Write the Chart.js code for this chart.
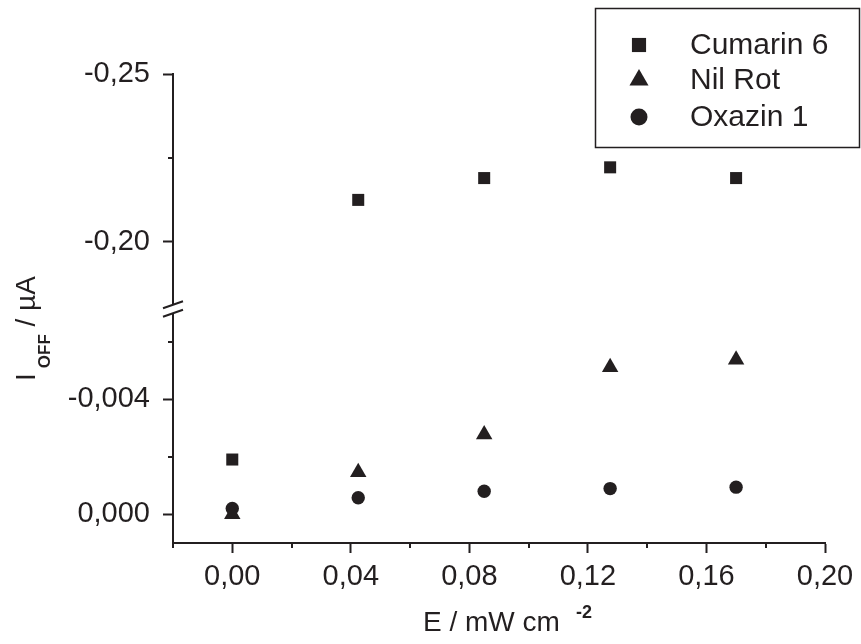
<!DOCTYPE html>
<html><head><meta charset="utf-8">
<script src="https://cdn.jsdelivr.net/npm/chart.js@4"></script>
<style>html,body{margin:0;padding:0;background:#fff;overflow:hidden}</style>
</head><body>
<canvas id="c" width="861" height="644" style="display:block;width:861px;height:644px"></canvas>
<script>
// ---- data ----
const energy   = [0, 0.0425, 0.085, 0.1275, 0.17];            // E / mW cm^-2
const cumarin6 = [-0.0019, -0.2125, -0.2190, -0.2222, -0.2190]; // I_OFF / µA
const nilRot   = [0.0000, -0.00146, -0.00277, -0.00511, -0.00537];
const oxazin1  = [-0.0002, -0.00057, -0.00080, -0.00089, -0.00094];
const seriesNames = ['Cumarin 6', 'Nil Rot', 'Oxazin 1'];

// ---- tick values ----
const xTicks      = [-0.02, 0, 0.02, 0.04, 0.06, 0.08, 0.10, 0.12, 0.14, 0.16, 0.18, 0.20];
const xMajorTicks = [0, 0.04, 0.08, 0.12, 0.16, 0.20];
const yLowTicks      = [0, -0.002, -0.004, -0.006];
const yLowMajorTicks = [0, -0.004];
const yHighTicks      = [-0.20, -0.225, -0.25];
const yHighMajorTicks = [-0.20, -0.25];
const breakValue = -0.1; // values more negative than this sit above the axis break

const INK = '#231f20';
const FONT = "'Liberation Sans', Arial, Helvetica, sans-serif";
const TICK_SIZE = 29;

const isMajor = (v, list) => list.some(m => Math.abs(m - v) < 1e-9);
const fmt = (v, d) => (Math.abs(v) < 1e-12 ? 0 : v).toFixed(d).replace('.', ',');
const pts = (vals, pred) => energy.map((x, i) => ({x, y: vals[i]})).filter(p => pred(p.y));
const high = v => v < breakValue, low = v => v >= breakValue;

const markerStyles = [
  {pointStyle: 'rect', radius: 8.5, legendRadius: 10},
  {pointStyle: 'triangle', radius: 9.5, legendRadius: 11},
  {pointStyle: 'circle', radius: 6.7, legendRadius: 8.5}
];
function ds(label, data, axis, idx, hidden) {
  const m = markerStyles[idx];
  return {label, data, yAxisID: axis, showLine: false, pointStyle: m.pointStyle,
    pointRadius: m.radius, pointHoverRadius: m.radius, pointBackgroundColor: INK,
    pointBorderColor: INK, pointBorderWidth: 0, backgroundColor: INK, borderColor: INK,
    legendSkip: !!hidden, seriesIndex: idx};
}
const datasets = [
  ds(seriesNames[0], pts(cumarin6, high), 'yHigh', 0, false),
  ds(seriesNames[0], pts(cumarin6, low), 'yLow', 0, true),
  ds(seriesNames[1], pts(nilRot, low), 'yLow', 1, false),
  ds(seriesNames[2], pts(oxazin1, low), 'yLow', 2, false)
];

function gridOpts(majors) {
  return {display: true, drawOnChartArea: false, drawTicks: true, tickLength: 10, tickWidth: 2,
    tickColor: ctx => (ctx.tick && isMajor(ctx.tick.value, majors)) ? INK : 'rgba(0,0,0,0)'};
}

const minorTicksPlugin = {
  id: 'minorTicks',
  afterDraw(chart) {
    const ctx = chart.ctx;
    ctx.save();
    ctx.strokeStyle = INK; ctx.lineWidth = 2;
    const defs = [['x', xTicks, xMajorTicks], ['yLow', yLowTicks, yLowMajorTicks], ['yHigh', yHighTicks, yHighMajorTicks]];
    for (const [id, ticks, majors] of defs) {
      const s = chart.scales[id];
      for (const v of ticks) {
        if (isMajor(v, majors)) continue;
        const p = Math.round(s.getPixelForValue(v));
        ctx.beginPath();
        if (id === 'x') { ctx.moveTo(p, s.top); ctx.lineTo(p, s.top + 5); }
        else { ctx.moveTo(s.right, p); ctx.lineTo(s.right - 5, p); }
        ctx.stroke();
      }
    }
    ctx.restore();
  }
};

const breakPlugin = {
  id: 'axisBreak',
  afterDraw(chart) {
    const ctx = chart.ctx;
    const ax = chart.chartArea.left;
    const yb = chart.scales.yHigh.bottom;
    ctx.save();
    ctx.fillStyle = '#fff';
    ctx.beginPath();
    ctx.moveTo(ax - 3, yb - 3.2); ctx.lineTo(ax + 3, yb - 5.3);
    ctx.lineTo(ax + 3, yb + 3.2); ctx.lineTo(ax - 3, yb + 5.3);
    ctx.closePath(); ctx.fill();
    ctx.strokeStyle = INK; ctx.lineWidth = 2;
    ctx.beginPath();
    ctx.moveTo(ax - 10, yb - 0.75); ctx.lineTo(ax + 10, yb - 7.75);
    ctx.moveTo(ax - 10, yb + 7.75); ctx.lineTo(ax + 10, yb + 0.75);
    ctx.stroke();
    ctx.restore();
  }
};

const titlesPlugin = {
  id: 'axisTitles',
  afterDraw(chart) {
    const ctx = chart.ctx;
    ctx.save();
    ctx.fillStyle = INK;
    ctx.textBaseline = 'alphabetic';
    ctx.textAlign = 'left';
    // x title
    ctx.font = `28px ${FONT}`;
    ctx.fillText('E / mW cm', 423, 631);
    ctx.font = `bold 18px ${FONT}`;
    ctx.fillText('-2', 576, 618);
    // y title (rotated)
    ctx.translate(35, 381);
    ctx.rotate(-Math.PI / 2);
    ctx.font = `28px ${FONT}`;
    ctx.fillText('I', 0, 0);
    let w = ctx.measureText('I').width;
    ctx.font = `bold 17px ${FONT}`;
    ctx.fillText('OFF', w + 5, 15);
    w += 5 + ctx.measureText('OFF').width;
    ctx.font = `28px ${FONT}`;
    ctx.fillText(' / µA', w, 0);
    ctx.restore();
  }
};

const legendPlugin = {
  id: 'boxLegend',
  afterDraw(chart) {
    const ctx = chart.ctx;
    ctx.save();
    ctx.strokeStyle = INK; ctx.lineWidth = 1.5;
    ctx.strokeRect(595.5, 8.5, 264, 139);
    const rows = [45, 80, 117];
    let r = 0;
    chart.data.datasets.forEach(d => {
      if (d.legendSkip) return;
      const m = markerStyles[d.seriesIndex];
      ctx.fillStyle = INK; ctx.strokeStyle = INK;
      Chart.helpers.drawPoint(ctx, {pointStyle: m.pointStyle, radius: m.legendRadius, rotation: 0, borderWidth: 0}, 639, rows[r]);
      ctx.font = `30px ${FONT}`;
      ctx.textBaseline = 'middle'; ctx.textAlign = 'left';
      ctx.fillText(d.label, 690, rows[r] + 1);
      r++;
    });
    ctx.restore();
  }
};

new Chart(document.getElementById('c'), {
  type: 'scatter',
  data: {datasets},
  plugins: [minorTicksPlugin, breakPlugin, titlesPlugin, legendPlugin],
  options: {
    responsive: false, animation: false, devicePixelRatio: 1,
    layout: {padding: {top: 74, right: 36, left: 0, bottom: 0}},
    plugins: {legend: {display: false}, tooltip: {enabled: false}, title: {display: false}},
    scales: {
      x: {type: 'linear', position: 'bottom', min: -0.02, max: 0.20,
        afterBuildTicks: s => { s.ticks = xTicks.map(v => ({value: v})); },
        afterFit: s => { s.height = 101; },
        grid: gridOpts(xMajorTicks),
        border: {display: true, color: INK, width: 2},
        ticks: {autoSkip: false, maxRotation: 0, minRotation: 0, padding: 7, color: INK,
          font: {family: FONT, size: TICK_SIZE},
          callback: v => isMajor(v, xMajorTicks) ? fmt(v, 2) : ''}
      },
      yHigh: {type: 'linear', position: 'left', stack: 'y', stackWeight: 235, weight: 2,
        reverse: true, min: -0.25, max: -0.18,
        afterBuildTicks: s => { s.ticks = yHighTicks.map(v => ({value: v})); },
        afterFit: s => { s.width = 173; },
        grid: gridOpts(yHighMajorTicks),
        border: {display: true, color: INK, width: 2},
        ticks: {autoSkip: false, padding: 13, color: INK, font: {family: FONT, size: TICK_SIZE},
          callback: v => isMajor(v, yHighMajorTicks) ? fmt(v, 2) : ''}
      },
      yLow: {type: 'linear', position: 'left', stack: 'y', stackWeight: 234, weight: 1,
        reverse: true, min: -0.00713, max: 0.001,
        afterBuildTicks: s => { s.ticks = yLowTicks.map(v => ({value: v})); },
        afterFit: s => { s.width = 173; },
        grid: gridOpts(yLowMajorTicks),
        border: {display: true, color: INK, width: 2},
        ticks: {autoSkip: false, padding: 13, color: INK, font: {family: FONT, size: TICK_SIZE},
          callback: v => isMajor(v, yLowMajorTicks) ? fmt(v, 3) : ''}
      }
    }
  }
});
</script>
</body></html>
